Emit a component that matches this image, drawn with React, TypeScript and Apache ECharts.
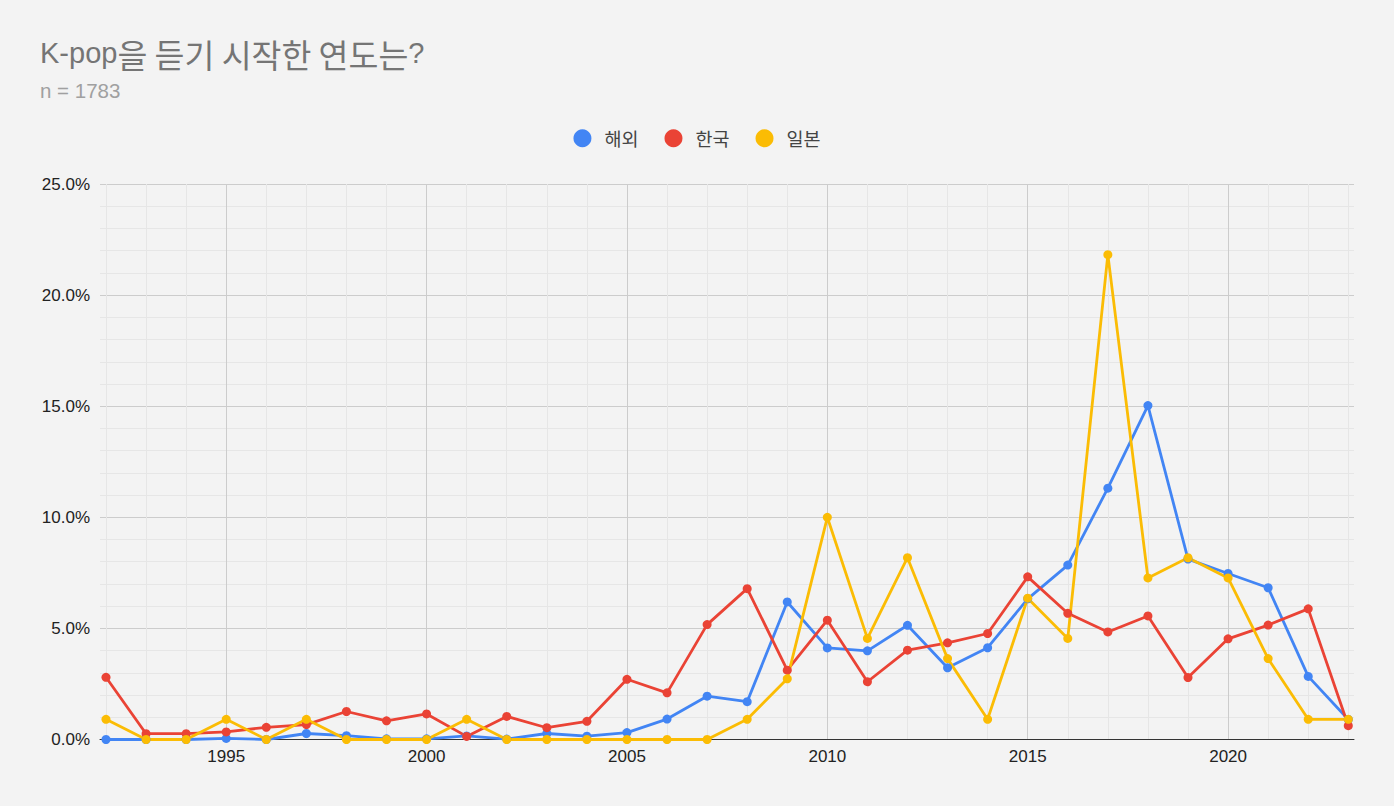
import React, { useEffect, useRef } from "react";
import * as echarts from "echarts";

const years = [
  1992, 1993, 1994, 1995, 1996, 1997, 1998, 1999, 2000, 2001, 2002, 2003, 2004, 2005, 2006, 2007,
  2008, 2009, 2010, 2011, 2012, 2013, 2014, 2015, 2016, 2017, 2018, 2019, 2020, 2021, 2022, 2023,
];

const overseas = [
  0, 0, 0, 0.05, 0, 0.27, 0.17, 0.03, 0.03, 0.16, 0.02, 0.27, 0.15, 0.31, 0.92, 1.95,
  1.7, 6.19, 4.12, 3.99, 5.14, 3.23, 4.13, 6.33, 7.85, 11.31, 15.03, 8.12, 7.47, 6.83, 2.84, 0.9,
];

const korea = [
  2.8, 0.26, 0.26, 0.34, 0.55, 0.67, 1.26, 0.84, 1.15, 0.14, 1.04, 0.53, 0.82, 2.71, 2.1, 5.17,
  6.79, 3.12, 5.37, 2.6, 4.02, 4.35, 4.77, 7.32, 5.68, 4.84, 5.56, 2.79, 4.53, 5.15, 5.88, 0.62,
];

const japan = [
  0.91, 0, 0, 0.91, 0, 0.91, 0, 0, 0, 0.91, 0, 0, 0, 0, 0, 0,
  0.91, 2.73, 10.0, 4.55, 8.18, 3.64, 0.91, 6.36, 4.55, 21.82, 7.27, 8.18, 7.27, 3.64, 0.91, 0.91,
];

const seriesNames = ["해외", "한국", "일본"];
const seriesColors = ["#4285F4", "#EA4335", "#FBBC04"];
const seriesValues = [overseas, korea, japan];

const LATIN = "'Liberation Sans', Arial, sans-serif";
const KOREAN = "'Noto Sans CJK KR', 'Noto Sans', sans-serif";

export default function App() {
  const ref = useRef<HTMLDivElement>(null);

  useEffect(() => {
    if (!ref.current) return;
    const chart = echarts.init(ref.current, undefined, { renderer: "svg" });
    const major = "#cccccc";
    const minor = "#e6e6e6";
    const option: any = {
      animation: false,
      backgroundColor: "#f3f3f3",
      title: [
        {
          text: "{l|K-pop}{k|을 듣기 시작한 연도는}{l|?}",
          left: 40,
          top: 37,
          padding: 0,
          textStyle: {
            fontWeight: "normal",
            rich: {
              l: { fontFamily: LATIN, fontSize: 29, color: "#757575", fontWeight: "normal" },
              k: { fontFamily: KOREAN, fontSize: 32.5, color: "#757575", fontWeight: "normal" },
            },
          },
        },
        {
          text: "n = 1783",
          left: 40,
          top: 80,
          padding: 0,
          textStyle: { fontFamily: LATIN, fontSize: 20.5, color: "#a0a0a0", fontWeight: "normal" },
        },
      ],
      legend: {
        data: seriesNames,
        top: 129,
        left: "center",
        padding: 0,
        icon: "circle",
        itemWidth: 18,
        itemHeight: 18,
        itemGap: 26,
        textStyle: { fontFamily: KOREAN, fontSize: 18.5, color: "#444444", padding: [0, 0, 0, 8] },
      },
      grid: [
        { left: 100, right: 40, top: 184, bottom: 66.5 },
        { left: 106, right: 45.7, top: 184, bottom: 66.5 },
      ],
      xAxis: [
        {
          gridIndex: 0,
          type: "value",
          min: 0,
          max: 1,
          axisLine: { show: true, onZero: false, lineStyle: { color: "#333333", width: 1 } },
          axisTick: { show: false },
          axisLabel: { show: false },
          splitLine: { show: false },
        },
        {
          gridIndex: 1,
          type: "value",
          min: 1992,
          max: 2023,
          interval: 1,
          axisLine: { show: false },
          axisTick: { show: false },
          axisLabel: {
            formatter: (v: number) => (v % 5 === 0 ? String(v) : ""),
            fontFamily: LATIN,
            fontSize: 17,
            color: "#222222",
            margin: 8,
          },
          splitLine: { show: true, lineStyle: { color: [minor, minor, minor, major, minor], width: 1 } },
        },
      ],
      yAxis: [
        {
          gridIndex: 0,
          type: "value",
          min: 0,
          max: 25,
          interval: 5,
          axisLine: { show: false },
          axisTick: { show: false },
          axisLabel: {
            formatter: (v: number) => v.toFixed(1) + "%",
            fontFamily: LATIN,
            fontSize: 17,
            color: "#222222",
            margin: 10,
          },
          splitLine: { show: true, lineStyle: { color: major, width: 1 } },
          minorTick: { show: false, splitNumber: 5 },
          minorSplitLine: { show: true, lineStyle: { color: minor, width: 1 } },
        },
        { gridIndex: 1, type: "value", min: 0, max: 25, show: false },
      ],
      series: seriesNames.map((name, s) => ({
        name,
        type: "line",
        xAxisIndex: 1,
        yAxisIndex: 1,
        data: years.map((y, i) => [y, seriesValues[s][i]]),
        symbol: "circle",
        symbolSize: 9,
        showSymbol: true,
        color: seriesColors[s],
        itemStyle: { color: seriesColors[s] },
        lineStyle: { color: seriesColors[s], width: 2.8 },
        emphasis: { disabled: true },
      })),
    };
    chart.setOption(option);
    return () => chart.dispose();
  }, []);

  return (
    <div
      ref={ref}
      style={{ position: "fixed", left: 0, top: 0, width: 1394, height: 806, background: "#f3f3f3" }}
    />
  );
}
